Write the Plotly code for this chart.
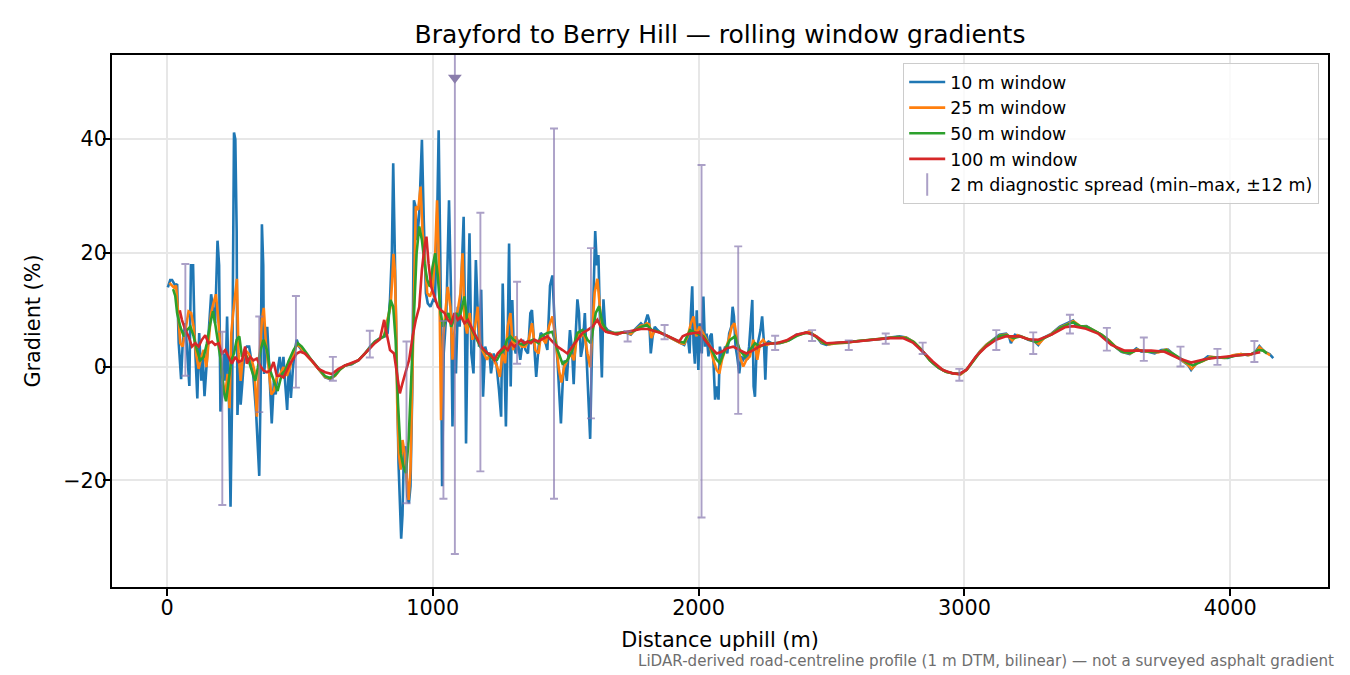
import plotly.graph_objects as go

# -------------------------------------------------------
# Data (distance in m, gradient in %)
# -------------------------------------------------------
dist_10 = [
    3, 12, 19, 31, 38, 44, 53, 59, 69, 76,
    84, 90, 98, 104, 114, 121, 129, 134, 141, 150,
    159, 166, 175, 181, 190, 196, 201, 209, 215, 220,
    226, 233, 239, 245, 252, 257, 262, 265, 272, 277,
    284, 292, 300, 309, 317, 325, 335, 347, 352, 357,
    362, 365, 372, 377, 382, 388, 394, 402, 409, 416,
    424, 432, 438, 444, 452, 459, 466, 473, 479, 488,
    497, 507, 519, 532, 544, 570, 595, 613, 632, 651,
    670, 695, 720, 745, 764, 782, 801, 820, 830, 839,
    846, 851, 857, 862, 867, 871, 876, 881, 886, 891,
    897, 904, 910, 916, 923, 929, 935, 941, 949, 954,
    959, 966, 974, 981, 991, 1001, 1008, 1016, 1022, 1028,
    1031, 1035, 1041, 1051, 1061, 1068, 1074, 1080, 1087, 1094,
    1101, 1109, 1116, 1121, 1125, 1132, 1138, 1145, 1153, 1162,
    1167, 1174, 1182, 1189, 1197, 1204, 1213, 1219, 1229, 1239,
    1249, 1257, 1263, 1269, 1275, 1282, 1287, 1293, 1299, 1304,
    1312, 1319, 1329, 1339, 1349, 1358, 1367, 1373, 1379, 1389,
    1398, 1406, 1418, 1431, 1441, 1450, 1459, 1469, 1476, 1482,
    1489, 1496, 1504, 1510, 1516, 1524, 1530, 1536, 1544, 1550,
    1557, 1564, 1572, 1579, 1585, 1592, 1598, 1604, 1611, 1617,
    1623, 1629, 1636, 1642, 1648, 1657, 1670, 1682, 1695, 1707,
    1720, 1732, 1745, 1758, 1770, 1783, 1795, 1808, 1814, 1820,
    1827, 1835, 1845, 1858, 1871, 1883, 1896, 1908, 1921, 1933,
    1946, 1959, 1966, 1971, 1976, 1981, 1986, 1993, 1999, 2005,
    2012, 2018, 2024, 2030, 2037, 2043, 2049, 2055, 2062, 2068,
    2075, 2080, 2087, 2093, 2100, 2108, 2115, 2123, 2128, 2133,
    2139, 2145, 2153, 2160, 2168, 2175, 2183, 2190, 2195, 2202,
    2207, 2212, 2218, 2226, 2233, 2239, 2246, 2251, 2256, 2263,
    2274, 2287, 2306, 2324, 2343, 2368, 2393, 2412, 2425, 2443,
    2462, 2481, 2506, 2531, 2556, 2581, 2606, 2631, 2656, 2681,
    2706, 2731, 2756, 2781, 2806, 2831, 2856, 2881, 2906, 2932,
    2957, 2982, 3007, 3032, 3057, 3082, 3107, 3132, 3157, 3168,
    3175, 3190, 3215, 3240, 3265, 3278, 3296, 3328, 3359, 3390,
    3409, 3422, 3434, 3459, 3484, 3515, 3541, 3566, 3591, 3622,
    3647, 3666, 3691, 3716, 3741, 3766, 3791, 3816, 3841, 3853,
    3872, 3891, 3916, 3941, 3966, 3991, 4016, 4041, 4066, 4091,
    4110, 4129, 4148, 4162,
]
grad_10 = [
    13.9, 15.2, 15.2, 14.2, 14.5, 4.1, -2.2, 4.1, 7.6, 2.3,
    -3.4, 17.8, 17.8, 5.3, -5.6, 5.9, -2.5, 2.3, -5.2, 1.1,
    8.2, 12.7, 9.4, 7.6, 22.1, 17.8, -7.9, -4.3, 2.3, -2.5,
    8.8, -5.5, -24.6, -4.9, 41.1, 39.9, 23.8, -8.5, 1.1, -6.7,
    -2.5, 2.9, 3.5, 3.5, 1.1, -1.9, -7.9, -19.2, -4.3, 25.0,
    17.8, -1.3, 2.3, 7.0, 2.3, -4.3, -10.0, -2.5, -4.9, -0.7,
    1.7, -1.9, 1.7, -2.5, -7.6, 1.1, -5.5, -0.7, 2.3, 4.7,
    3.5, 2.9, 2.3, 1.7, 1.1, -0.4, -1.9, -2.2, -1.6, -0.4,
    0.2, 0.4, 1.1, 2.3, 3.5, 4.4, 5.0, 5.3, 5.9, 11.8,
    20.0, 35.7, 22.0, 8.0, -6.0, -17.0, -24.0, -30.2, -26.0, -15.2,
    -14.0, -22.8, -24.0, -21.0, -3.5, 29.2, 28.1, 22.2, 26.9, 33.0,
    39.8, 25.7, 12.9, 11.1, 10.5, 11.7, 11.5, 25.0, 41.5, 20.0,
    8.0, -21.0, 2.3, 9.4, 29.2, 14.0, -10.5, 5.8, -1.2, 10.5,
    7.0, 17.0, 26.3, 8.0, -13.5, 10.5, 23.4, 2.3, -1.2, 18.7,
    10.5, 3.5, 13.5, -5.3, 3.5, 2.3, 2.3, -1.2, 2.3, 0.6,
    -4.1, -8.8, 14.6, 3.5, -10.5, 5.8, 21.6, -3.5, 11.7, 4.1,
    2.3, 4.7, 1.2, 4.7, 2.9, 2.3, 9.4, 9.9, 4.7, -1.8,
    3.5, 5.9, 5.3, 2.9, 14.2, 16.0, 7.0, 1.1, -4.9, -10.0,
    -2.5, 1.1, -2.5, 2.3, 6.4, 2.9, -3.1, 4.1, 11.8, 9.4,
    1.7, 3.5, 9.4, 1.1, -4.3, -12.7, 1.1, 11.8, 23.8, 17.8,
    19.6, 8.2, -1.9, 11.8, 7.0, 6.4, 6.1, 5.9, 5.6, 5.9,
    6.1, 5.9, 5.6, 6.4, 7.0, 7.6, 7.0, 9.1, 8.2, 2.3,
    5.3, 7.0, 6.4, 5.9, 5.6, 5.3, 5.0, 4.7, 4.4, 4.1,
    3.8, 5.3, 2.3, 9.4, 14.1, 4.0, 0.5, 9.9, -0.6, 7.6,
    2.3, 12.3, 3.5, 5.8, 1.8, 5.3, 5.8, 1.8, -5.8, -3.5,
    -5.8, 3.5, 1.8, 2.3, 3.5, 2.3, 5.8, 7.0, 10.5, 8.8,
    3.5, 1.8, -1.2, 1.8, 1.2, 1.8, 1.2, 3.5, 7.0, 11.7,
    -3.5, -5.3, 2.9, 4.7, 6.4, 8.8, 4.1, -2.3, 4.1, 4.4,
    4.1, 4.1, 4.1, 4.4, 4.7, 5.6, 5.8, 6.1, 5.8, 5.3,
    4.1, 3.8, 4.1, 4.2, 4.2, 4.4, 4.5, 4.6, 4.7, 4.8,
    5.0, 5.1, 5.3, 5.1, 4.4, 3.2, 1.8, 0.6, -0.3, -0.9,
    -1.2, -1.3, -0.6, 0.9, 2.6, 3.8, 4.7, 5.6, 5.8, 5.3,
    4.1, 5.6, 5.3, 4.7, 4.4, 3.8, 5.0, 5.8, 7.0, 7.6,
    8.1, 7.0, 7.0, 7.1, 6.4, 5.6, 4.7, 3.5, 2.6, 2.2,
    3.2, 2.6, 2.6, 2.3, 2.9, 3.0, 2.0, 1.2, 0.3, -0.6,
    0.6, 0.9, 1.8, 1.6, 1.5, 1.5, 2.0, 2.2, 2.0, 2.3,
    3.6, 2.6, 2.2, 1.5,
]

dist_25 = [
    9, 25, 34, 44, 50, 59, 69, 81, 91, 100,
    109, 119, 129, 138, 148, 156, 166, 175, 184, 192,
    200, 209, 219, 228, 235, 242, 249, 257, 263, 269,
    277, 284, 294, 307, 319, 329, 338, 347, 357, 364,
    372, 382, 392, 402, 413, 426, 438, 451, 463, 476,
    488, 501, 519, 532, 544, 570, 595, 613, 632, 651,
    670, 695, 720, 745, 764, 782, 801, 816, 829, 841,
    847, 852, 857, 862, 866, 872, 879, 886, 894, 901,
    909, 916, 923, 929, 936, 945, 954, 961, 969, 979,
    989, 999, 1009, 1016, 1024, 1031, 1039, 1048, 1056, 1066,
    1074, 1084, 1094, 1104, 1112, 1119, 1129, 1139, 1149, 1159,
    1169, 1179, 1192, 1204, 1217, 1229, 1242, 1252, 1262, 1272,
    1282, 1292, 1302, 1312, 1323, 1336, 1348, 1361, 1373, 1386,
    1398, 1406, 1425, 1437, 1450, 1462, 1475, 1484, 1494, 1506,
    1519, 1531, 1544, 1557, 1569, 1582, 1592, 1601, 1609, 1619,
    1627, 1634, 1644, 1657, 1670, 1682, 1695, 1707, 1720, 1732,
    1745, 1758, 1770, 1783, 1795, 1805, 1814, 1822, 1833, 1845,
    1858, 1871, 1883, 1896, 1908, 1921, 1933, 1946, 1959, 1971,
    1981, 1991, 2003, 2018, 2030, 2043, 2055, 2068, 2078, 2088,
    2100, 2113, 2125, 2135, 2145, 2155, 2168, 2180, 2193, 2206,
    2213, 2221, 2231, 2243, 2256, 2274, 2300, 2330, 2360, 2390,
    2415, 2440, 2465, 2490, 2520, 2560, 2600, 2650, 2700, 2750,
    2780, 2810, 2840, 2870, 2900, 2930, 2960, 2985, 3010, 3035,
    3060, 3085, 3110, 3135, 3160, 3180, 3200, 3230, 3260, 3280,
    3300, 3330, 3360, 3390, 3410, 3435, 3460, 3485, 3515, 3545,
    3570, 3595, 3625, 3650, 3670, 3700, 3730, 3760, 3790, 3815,
    3840, 3855, 3875, 3900, 3925, 3950, 3980, 4010, 4040, 4070,
    4095, 4110, 4130, 4150,
]
grad_25 = [
    14.7, 13.9, 14.2, 8.2, 4.1, 3.5, 6.0, 9.7, 9.4, 7.0,
    2.3, -0.4, 1.7, 2.9, -0.1, 4.1, 9.4, 11.2, 12.7, 8.8,
    3.5, -2.5, -4.9, -1.3, -7.3, 5.9, 9.4, 13.0, 15.4, 2.3,
    -2.5, 1.1, 2.9, 2.3, 1.1, -0.7, -8.8, 1.1, 8.2, 10.3,
    4.1, -0.1, -4.9, -4.3, -1.9, -1.3, -0.1, -1.6, -0.1, 2.3,
    3.8, 3.5, 2.3, 1.6, 1.0, -0.4, -1.8, -2.1, -1.6, -0.5,
    0.2, 0.5, 1.1, 2.3, 3.4, 4.3, 4.9, 5.3, 8.2, 10.5,
    15.0, 19.8, 17.0, 8.0, -6.4, -15.2, -18.1, -12.9, -15.2, -19.9,
    -23.4, -18.1, -3.5, 14.0, 28.1, 27.5, 31.6, 24.0, 18.7, 12.9,
    12.3, 13.5, 19.9, 29.2, 17.0, -9.4, 5.3, 10.5, 14.0, 10.5,
    1.2, 8.2, 9.9, 12.9, 19.9, 8.2, 5.8, 9.4, 4.7, 7.0,
    10.5, 3.5, 2.3, 1.2, 2.3, 1.2, 0.0, -1.8, 2.3, 0.6,
    7.0, 9.4, 2.9, 5.3, 4.1, 3.5, 3.5, 4.7, 7.6, 2.9,
    2.3, 5.3, 4.1, 7.0, 8.8, 4.7, -0.7, -2.8, -0.1, 1.1,
    2.3, 1.1, 5.9, 5.3, 5.9, 2.3, -0.1, 7.0, 13.0, 15.4,
    11.8, 7.6, 7.0, 6.1, 6.0, 5.9, 5.7, 5.9, 6.0, 5.9,
    5.7, 6.3, 6.8, 7.2, 7.2, 7.6, 7.4, 5.0, 6.2, 6.2,
    5.9, 5.6, 5.3, 5.0, 4.7, 4.4, 4.1, 4.0, 5.3, 7.6,
    8.8, 5.3, 7.0, 5.8, 4.7, 3.5, 1.2, -0.6, -1.2, 1.2,
    2.9, 4.7, 7.0, 7.6, 4.7, 1.8, 0.0, 1.2, 1.8, 4.7,
    3.5, 1.2, 4.1, 4.7, 3.8, 4.1, 4.1, 4.4, 5.3, 5.8,
    6.1, 5.4, 4.2, 3.9, 4.1, 4.2, 4.5, 4.7, 5.0, 5.2,
    5.1, 4.3, 2.9, 1.1, -0.1, -0.9, -1.2, -1.4, -0.5, 1.0,
    2.7, 3.9, 4.7, 5.5, 5.6, 4.6, 5.5, 5.0, 4.5, 4.0,
    5.0, 5.8, 6.9, 7.5, 8.0, 7.1, 7.0, 6.4, 5.6, 4.6,
    3.4, 2.6, 2.3, 3.0, 2.7, 2.6, 2.5, 3.0, 2.1, 1.2,
    0.4, -0.4, 0.6, 1.0, 1.7, 1.6, 1.5, 2.0, 2.2, 2.0,
    2.4, 3.4, 2.6, 2.0,
]

dist_50 = [
    23, 31, 38, 50, 63, 75, 88, 100, 113, 125,
    138, 150, 163, 173, 181, 192, 202, 213, 222, 232,
    242, 252, 262, 272, 282, 294, 307, 319, 332, 342,
    352, 363, 376, 388, 401, 416, 432, 444, 459, 476,
    492, 507, 526, 544, 570, 595, 613, 632, 651, 670,
    695, 720, 745, 764, 782, 801, 816, 829, 841, 851,
    860, 869, 879, 889, 899, 909, 919, 929, 939, 949,
    959, 969, 979, 989, 999, 1009, 1019, 1029, 1039, 1049,
    1059, 1069, 1079, 1089, 1099, 1109, 1119, 1129, 1142, 1154,
    1167, 1179, 1192, 1204, 1217, 1229, 1242, 1254, 1267, 1279,
    1292, 1304, 1323, 1342, 1361, 1379, 1398, 1406, 1431, 1450,
    1469, 1488, 1506, 1525, 1544, 1563, 1582, 1594, 1613, 1626,
    1638, 1657, 1680, 1705, 1730, 1755, 1780, 1805, 1825, 1850,
    1875, 1900, 1925, 1945, 1968, 1993, 2018, 2043, 2068, 2080,
    2099, 2118, 2137, 2155, 2174, 2193, 2212, 2231, 2256, 2280,
    2310, 2340, 2370, 2400, 2425, 2450, 2475, 2510, 2550, 2600,
    2650, 2700, 2750, 2780, 2810, 2840, 2870, 2900, 2930, 2960,
    2985, 3010, 3035, 3060, 3085, 3110, 3135, 3160, 3185, 3210,
    3240, 3270, 3300, 3330, 3360, 3390, 3410, 3435, 3460, 3485,
    3515, 3545, 3570, 3595, 3625, 3650, 3675, 3700, 3730, 3760,
    3790, 3815, 3840, 3860, 3880, 3905, 3930, 3960, 3990, 4020,
    4050, 4080, 4105, 4125, 4138,
]
grad_50 = [
    13.6, 12.4, 9.4, 7.0, 5.3, 6.4, 7.0, 5.3, 2.9, 1.1,
    1.7, 4.1, 7.6, 9.7, 7.6, 4.1, 1.1, -4.3, -6.1, -2.5,
    1.1, 2.3, 4.7, 5.3, 1.7, 2.3, 1.1, -0.7, -2.5, -0.1,
    2.9, 4.7, 2.9, -0.7, -2.5, -4.3, -1.3, -0.7, 1.1, 2.9,
    4.1, 3.5, 2.3, 1.1, -0.3, -1.7, -2.0, -1.5, -0.5, 0.2,
    0.5, 1.1, 2.3, 3.4, 4.3, 4.9, 5.3, 7.0, 11.7, 10.5,
    4.7, -6.4, -15.2, -17.5, -18.7, -12.9, -2.3, 10.5, 19.9, 24.6,
    22.2, 18.1, 15.2, 14.0, 17.5, 19.9, 15.8, 9.4, 7.0, 8.2,
    9.4, 7.0, 8.2, 9.4, 8.2, 10.5, 12.3, 8.2, 7.0, 5.8,
    4.7, 3.5, 2.9, 2.3, 1.8, 1.2, 1.2, 2.3, 2.9, 4.7,
    5.3, 4.7, 4.1, 3.8, 4.4, 4.7, 4.1, 5.3, 5.9, 6.1,
    2.9, 0.5, 1.1, 2.9, 5.9, 6.4, 4.7, 4.1, 9.4, 10.6,
    7.6, 6.1, 5.9, 5.9, 6.0, 6.2, 6.9, 7.3, 6.4, 6.1,
    5.6, 5.0, 4.4, 4.2, 6.4, 5.8, 5.3, 3.5, 1.2, 0.6,
    2.9, 4.7, 5.3, 2.9, 1.8, 2.9, 4.1, 3.5, 4.0, 4.1,
    4.2, 4.6, 5.4, 5.9, 5.8, 4.9, 4.0, 4.1, 4.2, 4.5,
    4.7, 5.0, 5.2, 5.0, 4.3, 2.9, 1.1, -0.1, -0.9, -1.2,
    -1.3, -0.5, 1.0, 2.6, 3.8, 4.7, 5.4, 5.5, 5.0, 5.3,
    4.8, 4.3, 5.0, 5.7, 6.8, 7.4, 7.8, 7.1, 7.0, 6.4,
    5.6, 4.5, 3.4, 2.6, 2.4, 2.9, 2.7, 2.6, 2.6, 2.9,
    2.1, 1.3, 0.6, 0.2, 0.7, 1.2, 1.6, 1.6, 1.6, 1.9,
    2.1, 2.2, 2.9, 2.8, 2.3,
]

dist_100 = [
    48, 56, 69, 81, 94, 106, 119, 131, 144, 156,
    169, 181, 194, 207, 219, 232, 244, 257, 269, 282,
    294, 300, 313, 325, 338, 350, 363, 376, 388, 401,
    413, 426, 438, 451, 463, 476, 488, 501, 519, 544,
    570, 595, 620, 645, 670, 720, 757, 782, 801, 810,
    817, 826, 839, 854, 866, 876, 886, 899, 911, 924,
    936, 949, 959, 969, 976, 984, 994, 1006, 1019, 1031,
    1044, 1056, 1069, 1081, 1094, 1106, 1119, 1132, 1144, 1157,
    1169, 1182, 1194, 1207, 1219, 1232, 1244, 1257, 1269, 1282,
    1294, 1307, 1319, 1332, 1344, 1357, 1369, 1382, 1398, 1406,
    1431, 1450, 1469, 1488, 1506, 1525, 1544, 1563, 1582, 1601,
    1619, 1632, 1651, 1670, 1688, 1707, 1732, 1758, 1783, 1808,
    1833, 1858, 1883, 1908, 1927, 1940, 1959, 1984, 2003, 2018,
    2043, 2068, 2087, 2105, 2130, 2155, 2180, 2206, 2231, 2256,
    2293, 2331, 2368, 2406, 2443, 2481, 2531, 2594, 2656, 2719,
    2769, 2806, 2844, 2881, 2919, 2957, 2982, 3007, 3044, 3082,
    3119, 3157, 3207, 3240, 3278, 3328, 3378, 3409, 3453, 3503,
    3553, 3603, 3653, 3703, 3753, 3803, 3853, 3904, 3954, 4016,
    4079, 4113,
]
grad_100 = [
    9.9, 8.2, 6.4, 5.3, 3.5, 4.1, 3.5, 4.7, 5.5, 4.1,
    4.4, 3.8, 4.1, 2.3, 2.9, 1.7, 0.5, 1.7, 0.8, 1.1,
    3.5, 0.5, 1.7, 1.1, 1.4, 0.2, -0.7, -1.0, -0.7, 0.8,
    -1.6, -1.6, -1.9, -0.7, 0.5, 1.4, 2.3, 2.6, 2.3, 1.1,
    -0.4, -1.0, -1.3, -0.4, 0.2, 1.1, 2.9, 4.1, 4.8, 7.0,
    8.2, 5.9, 2.9, 2.3, -1.2, -4.7, -2.9, -0.6, 1.2, 5.3,
    8.2, 10.5, 17.0, 21.1, 22.8, 18.1, 14.0, 12.3, 10.5, 9.9,
    9.4, 8.2, 7.6, 9.4, 8.2, 8.8, 7.6, 8.2, 7.0, 5.8,
    4.7, 3.5, 2.9, 2.3, 2.0, 1.2, 2.3, 2.9, 3.5, 2.9,
    4.1, 3.5, 4.1, 4.7, 4.1, 4.4, 4.1, 4.7, 4.4, 4.7,
    5.3, 4.4, 3.5, 2.9, 2.3, 3.5, 4.7, 5.9, 6.4, 7.0,
    8.2, 7.0, 6.1, 5.9, 5.7, 5.9, 6.1, 6.4, 6.6, 6.6,
    6.3, 5.9, 5.4, 4.8, 4.4, 5.3, 5.7, 5.9, 6.0, 5.0,
    3.5, 2.3, 2.6, 3.2, 3.5, 2.9, 2.3, 2.9, 3.6, 4.0,
    4.1, 4.6, 5.6, 6.0, 5.3, 4.1, 4.2, 4.4, 4.7, 5.0,
    5.0, 4.2, 2.6, 0.9, -0.6, -1.2, -1.3, -0.6, 1.8, 3.5,
    4.7, 5.3, 5.3, 4.8, 4.7, 5.6, 6.9, 7.1, 6.7, 5.8,
    3.8, 2.8, 2.8, 2.8, 2.6, 1.5, 0.7, 1.3, 1.6, 1.9,
    2.2, 2.5,
]

# 2 m diagnostic spread: min / max of the 2 m gradient within +-12 m
spread_x = [69, 208, 347, 485, 624, 763, 901, 1040, 1083, 1179,
            1317, 1456, 1595, 1733, 1872, 2011, 2149, 2288, 2427, 2565,
            2704, 2843, 2981, 3120, 3259, 3397, 3536, 3675, 3813, 3952,
            4091]
spread_max = [18.0, 6.1, 8.8, 12.4, 1.7, 6.3, 4.4, 8.0, 60.0, 27.0,
              14.9, 41.8, 20.8, 6.2, 7.3, 35.4, 21.1, 5.4, 6.4, 4.6,
              5.8, 4.2, -0.4, 6.4, 6.0, 9.1, 6.8, 5.1, 3.5, 3.1,
              4.5]
spread_min = [-1.6, -24.3, -8.0, -3.7, -2.5, 1.6, -24.0, -23.2, -32.9, -18.4,
              0.5, -23.2, -9.1, 4.4, 4.8, -26.5, -8.3, 2.9, 4.5, 2.9,
              4.0, 2.2, -2.5, 2.9, 2.2, 5.8, 2.8, 1.0, 0.0, 0.3,
              0.8]

# spread that runs off the top of the axis
clip_x = [1083]
clip_y = [50.7]

windows = [
    ("10 m window", dist_10, grad_10, "#1f77b4"),
    ("25 m window", dist_25, grad_25, "#ff7f0e"),
    ("50 m window", dist_50, grad_50, "#2ca02c"),
    ("100 m window", dist_100, grad_100, "#d62728"),
]

SPREAD_COLOR = "rgba(136,120,175,0.7)"
FONT = "DejaVu Sans"

# page body has an 8 px margin, so the figure is 8 px smaller
FIG_W, FIG_H = 1342, 667

fig = go.Figure()

# -------------------------------------------------------
# Rolling window lines
# -------------------------------------------------------
for name, xs, ys, color in windows:
    assert len(xs) == len(ys), name
    fig.add_trace(go.Scatter(
        x=xs, y=ys, mode="lines", name=name,
        line=dict(color=color, width=2.6),
    ))

# -------------------------------------------------------
# Diagnostic spread as min-max error bars (drawn on top)
# -------------------------------------------------------
fig.add_trace(go.Scatter(
    x=spread_x, y=spread_min, mode="markers", showlegend=False,
    marker=dict(size=1, opacity=0),
    error_y=dict(
        type="data", symmetric=False,
        array=[hi - lo for hi, lo in zip(spread_max, spread_min)],
        arrayminus=[0] * len(spread_min),
        color=SPREAD_COLOR, thickness=1.9, width=4,
    ),
))
fig.add_trace(go.Scatter(
    x=clip_x, y=clip_y, mode="markers", showlegend=False,
    marker=dict(symbol="triangle-down", size=12, color="#8a7dab"),
))
# legend handle for the spread
fig.add_trace(go.Scatter(
    x=[None], y=[None], mode="markers",
    name="2 m diagnostic spread (min\u2013max, \u00b112 m)",
    marker=dict(symbol="line-ns", size=16,
                line=dict(color=SPREAD_COLOR, width=2)),
))

axis_common = dict(
    showline=True, linecolor="black", linewidth=1.6, mirror=True,
    ticks="outside", ticklen=7, tickwidth=1.6, tickcolor="black",
    showgrid=True, gridcolor="#e7e7e7", gridwidth=1.6, zeroline=False,
    tickfont=dict(family=FONT, size=20.8, color="black"),
)

fig.update_xaxes(
    range=[-207, 4368], tickvals=[0, 1000, 2000, 3000, 4000],
    title=dict(text="Distance uphill (m)", standoff=14,
               font=dict(family=FONT, size=20.8, color="black")),
    ticklabelstandoff=-6,
    **axis_common,
)
fig.update_yaxes(
    range=[-38.7, 54.7], tickvals=[-20, 0, 20, 40],
    title=dict(text="Gradient (%)", standoff=17,
               font=dict(family=FONT, size=20.8, color="black")),
    ticklabelstandoff=-8,
    **axis_common,
)

fig.update_layout(
    width=FIG_W, height=FIG_H,
    margin=dict(l=104, r=22, t=47, b=88),
    paper_bgcolor="white", plot_bgcolor="white",
    font=dict(family=FONT, color="black"),
    title=dict(text="Brayford to Berry Hill \u2014 rolling window gradients",
               x=0.5, xref="paper", xanchor="center",
               y=1 - 26 / FIG_H, yref="container", yanchor="middle",
               font=dict(family=FONT, size=25, color="black")),
    legend=dict(
        x=0.9926, y=0.985, xanchor="right", yanchor="top",
        bgcolor="rgba(255,255,255,0.8)", bordercolor="#cccccc", borderwidth=1.2,
        font=dict(family=FONT, size=17.4, color="black"),
        itemwidth=36,
    ),
    annotations=[dict(
        text="LiDAR-derived road-centreline profile (1 m DTM, bilinear) \u2014 not a surveyed asphalt gradient",
        xref="paper", yref="paper", x=1.0066, y=-0.139,
        xanchor="right", yanchor="middle", showarrow=False,
        font=dict(family=FONT, size=15.1, color="#6e6e6e"),
    )],
)

fig.write_html("out.html")
